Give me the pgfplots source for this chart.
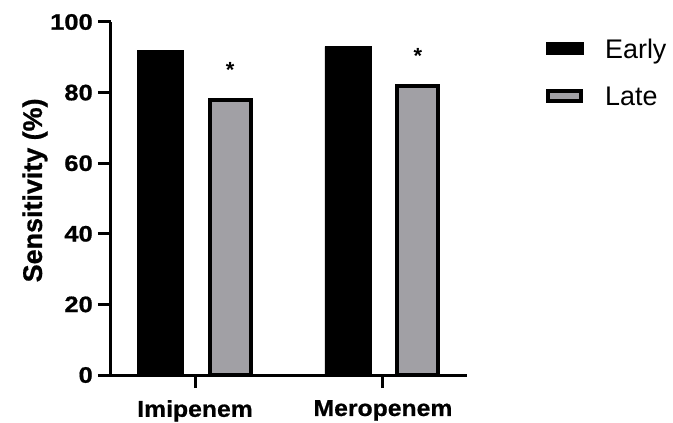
\documentclass[border=0pt]{standalone}
\usepackage{fontspec}
\setmainfont{Liberation Sans}
\newfontfamily\tickfont[FakeStretch=1.14, BoldFeatures={FakeBold=0.8}]{Liberation Sans}
\newfontfamily\xtickfont[FakeStretch=1.08, BoldFeatures={FakeBold=0.8}]{Liberation Sans}
\newfontfamily\labfont[BoldFeatures={FakeBold=0.8}]{Liberation Sans}
\usepackage{pgfplots}
\pgfplotsset{compat=1.18}
\definecolor{lategray}{RGB}{161,160,165}
\begin{document}
\begin{tikzpicture}
\begin{axis}[
  scale only axis, width=356bp, height=353bp,
  at={(0,0)}, anchor=south west,
  xmin=-0.447, xmax=1.447, ymin=0, ymax=100,
  axis x line=bottom, axis y line=left,
  axis line style={line width=3bp, -},
  xtick={0,1}, xticklabels={Imipenem,Meropenem},
  ytick={0,20,40,60,80,100},
  tick align=outside, major tick length=13bp,
  tick style={line width=3bp, black},
  /pgf/number format/assume math mode=true,
  yticklabel style={font=\tickfont\bfseries\fontsize{22.5}{24}\selectfont, inner sep=0pt, xshift=-5bp},
  xticklabel style={font=\xtickfont\bfseries\fontsize{23}{25}\selectfont, inner sep=0pt, yshift=-12bp},
  ylabel={Sensitivity (\%)},
  ylabel style={font=\labfont\bfseries\fontsize{27}{29}\selectfont, at={(axis description cs:-0.194,0.523)}, anchor=base, rotate=0},
  legend style={at={(axis description cs:1.212,0.959)}, anchor=north west, draw=none, fill=none,
    font=\fontsize{27}{29}\selectfont, row sep=27bp, column sep=22bp,
    nodes={inner sep=0pt}},
  legend cell align=left,
  clip=false,
]
\addplot[ybar, bar width=46bp, bar shift=-35bp, fill=black, draw=black, line width=0.5bp,
  legend image code/.code={\fill[black] (0bp,-5bp) rectangle (37bp,7bp);}]
  coordinates {(0,92) (1,93)};
\addlegendentry{Early}
\addplot[ybar, bar width=41bp, bar shift=35bp, fill=lategray, draw=black, line width=4bp,
  nodes near coords={*},
  every node near coord/.append style={anchor=base, xshift=35bp, yshift=22bp, font=\bfseries\fontsize{22}{24}\selectfont},
  legend image code/.code={\draw[fill=lategray, draw=black, line width=4bp] (2bp,-4bp) rectangle (35bp,6bp);}]
  coordinates {(0,78) (1,82)};
\addlegendentry{Late}
\end{axis}
\pgfresetboundingbox
\path[use as bounding box] (-111bp,-48bp) rectangle (562bp,375bp);
\end{tikzpicture}
\end{document}
